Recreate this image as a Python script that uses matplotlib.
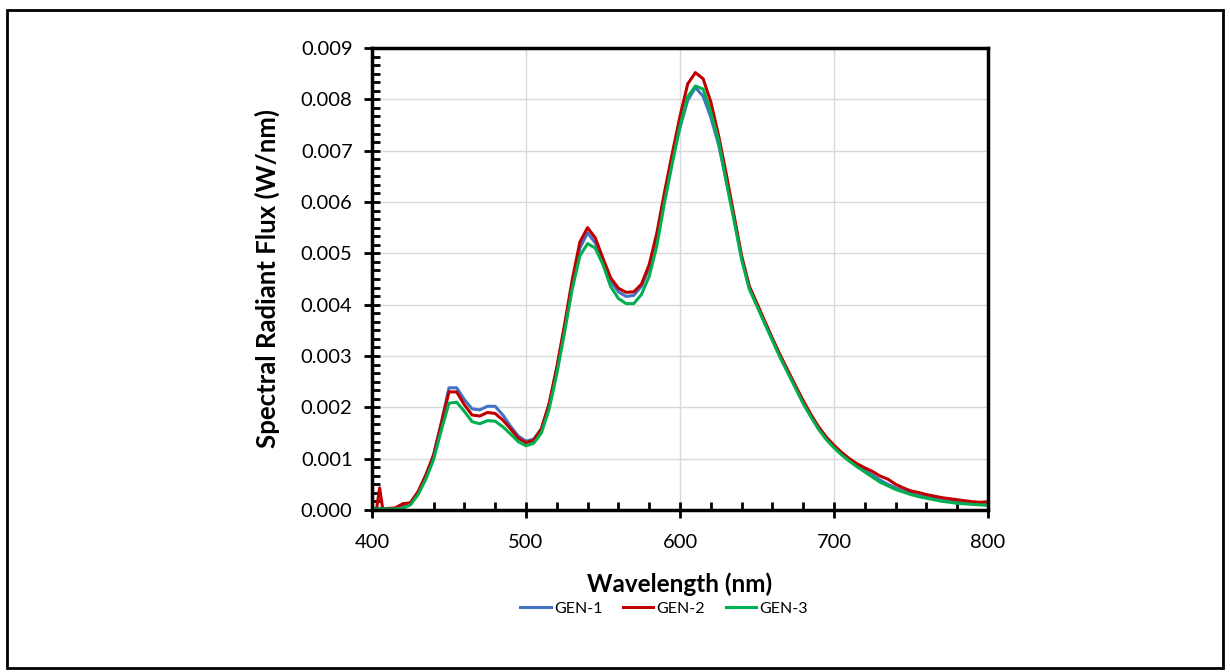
import matplotlib
matplotlib.use("Agg")
import matplotlib.pyplot as plt
from matplotlib.patches import Rectangle
from matplotlib.ticker import MultipleLocator, AutoMinorLocator

plt.rcParams['font.family'] = ['Lato', 'DejaVu Sans']

# wavelength grid (nm)
wavelength = [400, 403, 405, 407, 410, 415, 420, 425, 430, 435, 440, 445, 450, 455,
              460, 465, 470, 475, 480, 485, 490, 495, 500, 505, 510, 515, 520, 525,
              530, 535, 540, 545, 550, 555, 560, 565, 570, 575, 580, 585, 590, 595,
              600, 605, 610, 615, 620, 625, 630, 635, 640, 645, 650, 655, 660, 665,
              670, 675, 680, 685, 690, 695, 700, 705, 710, 715, 720, 725, 730, 735,
              740, 745, 750, 755, 760, 765, 770, 775, 780, 785, 790, 795, 800]

gen1 = [0.00003, 0.00003, 0.00003, 0.00003, 0.00002, 0.00003, 0.00005, 0.00014, 0.00035,
        0.00068, 0.00108, 0.00170, 0.00238, 0.00238, 0.00215, 0.00197, 0.00195, 0.00202,
        0.00202, 0.00185, 0.00163, 0.00144, 0.00134, 0.00138, 0.00158, 0.00205, 0.00275,
        0.00355, 0.00440, 0.00510, 0.00540, 0.00520, 0.00485, 0.00446, 0.00425, 0.00416,
        0.00418, 0.00436, 0.00472, 0.00535, 0.00612, 0.00685, 0.00745, 0.00798, 0.00823,
        0.00806, 0.00765, 0.00712, 0.00642, 0.00570, 0.00492, 0.00434, 0.00400, 0.00366,
        0.00333, 0.00300, 0.00270, 0.00240, 0.00210, 0.00184, 0.00160, 0.00140, 0.00124,
        0.00110, 0.00098, 0.00087, 0.00077, 0.00068, 0.00058, 0.00050, 0.00043, 0.00037,
        0.00032, 0.00028, 0.00025, 0.00022, 0.00019, 0.00017, 0.00015, 0.00013, 0.00012,
        0.00011, 0.00010]

gen2 = [0.00003, 0.00002, 0.00043, 0.00002, 0.00003, 0.00004, 0.00012, 0.00014, 0.00036,
        0.00068, 0.00106, 0.00168, 0.00230, 0.00230, 0.00205, 0.00185, 0.00183, 0.00190,
        0.00188, 0.00175, 0.00158, 0.00140, 0.00131, 0.00136, 0.00158, 0.00207, 0.00278,
        0.00360, 0.00448, 0.00522, 0.00550, 0.00530, 0.00490, 0.00452, 0.00432, 0.00424,
        0.00425, 0.00440, 0.00478, 0.00540, 0.00620, 0.00695, 0.00767, 0.00830, 0.00852,
        0.00840, 0.00795, 0.00730, 0.00655, 0.00575, 0.00495, 0.00436, 0.00402, 0.00368,
        0.00334, 0.00302, 0.00272, 0.00242, 0.00213, 0.00186, 0.00162, 0.00142, 0.00126,
        0.00112, 0.00100, 0.00090, 0.00082, 0.00075, 0.00066, 0.00060, 0.00050, 0.00043,
        0.00037, 0.00034, 0.00030, 0.00027, 0.00024, 0.00022, 0.00020, 0.00018, 0.00016,
        0.00015, 0.00016]

gen3 = [0.00002, 0.00002, 0.00002, 0.00002, 0.00002, 0.00002, 0.00003, 0.00010, 0.00030,
        0.00060, 0.00098, 0.00155, 0.00208, 0.00210, 0.00192, 0.00172, 0.00168, 0.00174,
        0.00173, 0.00162, 0.00148, 0.00133, 0.00125, 0.00130, 0.00150, 0.00196, 0.00265,
        0.00345, 0.00430, 0.00495, 0.00519, 0.00510, 0.00478, 0.00435, 0.00412, 0.00402,
        0.00402, 0.00420, 0.00455, 0.00515, 0.00600, 0.00675, 0.00748, 0.00805, 0.00826,
        0.00820, 0.00775, 0.00720, 0.00640, 0.00565, 0.00488, 0.00430, 0.00397, 0.00363,
        0.00330, 0.00297, 0.00267, 0.00237, 0.00207, 0.00181, 0.00157, 0.00137, 0.00121,
        0.00107, 0.00095, 0.00084, 0.00074, 0.00064, 0.00054, 0.00047, 0.00040, 0.00035,
        0.00030, 0.00026, 0.00023, 0.00020, 0.00017, 0.00015, 0.00013, 0.00012, 0.00011,
        0.00010, 0.00009]

series_names = ['GEN-1', 'GEN-2', 'GEN-3']
series_colors = ['#4472C4', '#C00000', '#00B050']

fig = plt.figure(figsize=(12.3, 6.72), dpi=100)
ax = fig.add_axes([0.3024, 0.2411, 0.5009, 0.6875])

for vals, name, col in zip([gen1, gen2, gen3], series_names, series_colors):
    ax.plot(wavelength, vals, color=col, lw=2.2, label=name)

ax.set_xlim(400, 800)
ax.set_ylim(0, 0.009)
ax.xaxis.set_major_locator(MultipleLocator(100))
ax.xaxis.set_minor_locator(AutoMinorLocator(5))
ax.yaxis.set_major_locator(MultipleLocator(0.001))
ax.yaxis.set_minor_locator(AutoMinorLocator(6))
ax.yaxis.set_major_formatter(plt.FuncFormatter(lambda v, p: '%.3f' % v))

ax.grid(True, which='major', color='#D9D9D9', lw=1.0)
ax.set_axisbelow(True)
for s in ax.spines.values():
    s.set_linewidth(2.5)
    s.set_color('black')

ax.tick_params(which='major', direction='inout', length=12, width=2, labelsize=14.5,
               top=False, right=False)
ax.tick_params(which='minor', direction='in', length=6, width=2, top=False, right=False)
ax.tick_params(axis='x', which='major', pad=11)
ax.tick_params(axis='y', which='major', pad=8)

ax.set_xlabel('Wavelength (nm)', fontsize=17.5, fontweight='bold', labelpad=16)
ax.set_ylabel('Spectral Radiant Flux (W/nm)', fontsize=18.5, fontweight='bold', labelpad=15)

fig.legend(loc='center', bbox_to_anchor=(0.54, 0.094), ncol=3, frameon=False,
           fontsize=11.5, handlelength=1.9, handletextpad=0.2, columnspacing=1.3)

# outer chart border
fig.patches.append(Rectangle((0.0057, 0.006), 0.9886, 0.9789, transform=fig.transFigure,
                             fill=False, edgecolor='black', lw=2))

fig.savefig('out.png', dpi=100)
